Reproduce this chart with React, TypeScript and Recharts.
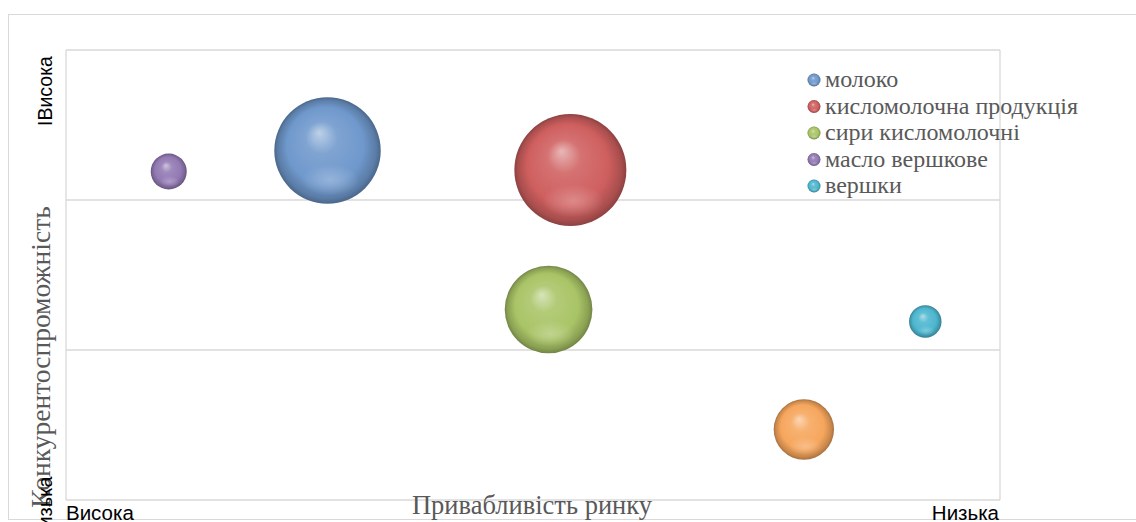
import React from 'react';
import { ScatterChart, Scatter, XAxis, YAxis, ZAxis, CartesianGrid } from 'recharts';

// Product groups: market attractiveness (x, 0 = high … 3 = low),
// competitiveness (y, 0 = low … 3 = high) and bubble size (sales volume share).
const products = ['молоко', 'кисломолочна продукція', 'сири кисломолочні', 'масло вершкове', 'вершки', 'інше'];
const attractiveness = [0.84, 1.62, 1.55, 0.33, 2.76, 2.37];
const competitiveness = [2.33, 2.2, 1.27, 2.19, 1.19, 0.47];
const volume = [28, 31, 19, 3.2, 2.6, 9];
const colors = ['#6f98cc', '#cf5f5f', '#a9c466', '#9279b3', '#4db6cf', '#f6a65d'];
const inLegend = [true, true, true, true, true, false];

const gridTicks = [0, 1, 2, 3];

const W = 1136;
const H = 522;
const margin = { top: 50, right: 136, bottom: 22, left: 66 };

function mix(hex: string, target: number, t: number): string {
  const n = parseInt(hex.slice(1), 16);
  const ch = [(n >> 16) & 255, (n >> 8) & 255, n & 255].map((c) => Math.round(c + (target - c) * t));
  return '#' + ch.map((c) => c.toString(16).padStart(2, '0')).join('');
}

function Sphere({ cx, cy, r, color, id }: { cx: number; cy: number; r: number; color: string; id: string }) {
  const light = mix(color, 255, 0.55);
  const dark = mix(color, 0, 0.18);
  const darker = mix(color, 0, 0.32);
  return (
    <g>
      <defs>
        <radialGradient id={`body-${id}`} cx="50%" cy="50%" r="50%" fx="42%" fy="33%">
          <stop offset="0%" stopColor={light} />
          <stop offset="30%" stopColor={mix(color, 255, 0.12)} />
          <stop offset="72%" stopColor={color} />
          <stop offset="92%" stopColor={dark} />
          <stop offset="100%" stopColor={darker} />
        </radialGradient>
        <radialGradient id={`refl-${id}`} cx="50%" cy="50%" r="50%">
          <stop offset="0%" stopColor={mix(color, 255, 0.35)} stopOpacity={0.75} />
          <stop offset="100%" stopColor={mix(color, 255, 0.35)} stopOpacity={0} />
        </radialGradient>
      </defs>
      <circle cx={cx} cy={cy} r={r} fill={`url(#body-${id})`} />
      <ellipse cx={cx + r * 0.05} cy={cy + r * 0.55} rx={r * 0.55} ry={r * 0.3} fill={`url(#refl-${id})`} />
    </g>
  );
}

const seriesData = products.map((name, i) => [
  { x: attractiveness[i], y: competitiveness[i], z: volume[i], name },
]);

const legendTop = 80;
const legendStep = 26.5;
const serif = "'Liberation Serif', 'Times New Roman', serif";
const sans = "'Liberation Sans', Arial, sans-serif";

export default function App() {
  return (
    <div style={{ position: 'absolute', left: 0, top: 0, width: W, height: H, background: '#fff', overflow: 'hidden' }}>
      <div
        style={{
          position: 'absolute',
          left: 8,
          top: 14,
          width: W,
          height: 506,
          border: '1px solid #d9d9d9',
          boxSizing: 'border-box',
        }}
      />
      <div style={{ position: 'absolute', left: 0, top: 0 }}>
        <ScatterChart width={W} height={H} margin={margin}>
          <CartesianGrid stroke="#d9d9d9" strokeWidth={1.3} />
          <XAxis
            type="number"
            dataKey="x"
            domain={[0, 3]}
            ticks={gridTicks}
            tick={false}
            tickLine={false}
            height={0}
            axisLine={{ stroke: '#bfbfbf', strokeWidth: 2 }}
          />
          <YAxis type="number" dataKey="y" domain={[0, 3]} ticks={gridTicks} hide width={0} />
          <ZAxis type="number" dataKey="z" domain={[0, 31]} range={[0, Math.PI * 56 * 56]} />
          {seriesData.map((d, i) => (
            <Scatter
              key={products[i]}
              name={products[i]}
              data={d}
              fill={colors[i]}
              isAnimationActive={false}
              shape={(p: any) => (
                <Sphere cx={p.cx} cy={p.cy} r={p.width / 2} color={colors[i]} id={`s${i}`} />
              )}
            />
          ))}
        </ScatterChart>
      </div>
      <svg width={W} height={H} style={{ position: 'absolute', left: 0, top: 0, pointerEvents: 'none' }}>
        {/* legend */}
        {products.map((name, i) =>
          inLegend[i] ? (
            <g key={name}>
              <Sphere cx={814} cy={legendTop + i * legendStep} r={6.5} color={colors[i]} id={`l${i}`} />
              <text x={825} y={legendTop + i * legendStep + 7} fontFamily={serif} fontSize={24} fill="#595959">
                {name}
              </text>
            </g>
          ) : null
        )}
        {/* axis titles */}
        <text x={532} y={514} textAnchor="middle" fontFamily={serif} fontSize={26.5} fill="#595959">
          Привабливість ринку
        </text>
        <text
          transform="translate(50,357) rotate(-90)"
          textAnchor="middle"
          fontFamily={serif}
          fontSize={27.5}
          fill="#595959"
        >
          Конкурентоспроможність
        </text>
        {/* scale end labels */}
        <text x={66} y={520} fontFamily={sans} fontSize={20.5} fill="#000">
          Висока
        </text>
        <text x={999} y={520} textAnchor="end" fontFamily={sans} fontSize={20.5} fill="#000">
          Низька
        </text>
        <text transform="translate(52,126) rotate(-90)" fontFamily={sans} fontSize={19.5} fill="#000">
          ІВисока
        </text>
        <text transform="translate(52,542) rotate(-90)" fontFamily={sans} fontSize={20} fill="#000">
          Низька
        </text>
      </svg>
    </div>
  );
}
